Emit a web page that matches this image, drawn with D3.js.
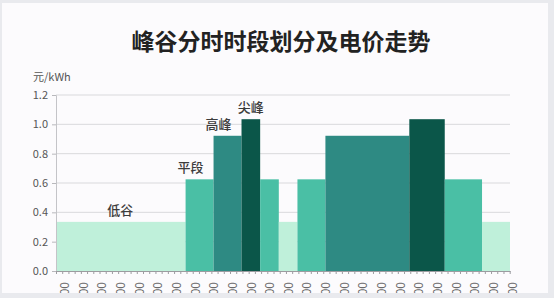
<!DOCTYPE html>
<html>
<head>
<meta charset="utf-8">
<script src="https://cdn.jsdelivr.net/npm/d3@7"></script>
<style>
  body { margin: 0; background: #e9eaee; }
  text { font-family: "Noto Sans CJK SC", "Noto Sans", sans-serif; }
</style>
</head>
<body>
<div id="plot"></div>
<script>
// Define dimensions
const width = 554, height = 298;
const margin = { top: 95, bottom: 27, left: 56, right: 44 };

// Data: time segments (hours), price (元/kWh) and period type
const segStart = [-0.45, 6.5, 8, 9.5, 10.5, 11.5, 12.5, 14, 18.5, 20.4, 22.4];
const segEnd   = [6.5, 8, 9.5, 10.5, 11.5, 12.5, 14, 18.5, 20.4, 22.4, 23.9];
const segType  = ['低谷', '平段', '高峰', '尖峰', '平段', '低谷', '平段', '高峰', '尖峰', '平段', '低谷'];
const typeNames  = ['低谷', '平段', '高峰', '尖峰'];
const typePrices = [0.335, 0.625, 0.922, 1.035];
const hourLabels = d3.range(0, 25).map(h => h + ':00');
const yTicks = [0, 0.2, 0.4, 0.6, 0.8, 1.0, 1.2];

const segments = segStart.map((s, i) => ({
  start: s, end: segEnd[i], type: segType[i],
  price: typePrices[typeNames.indexOf(segType[i])]
}));

// Create SVG container
const svg = d3.select('#plot')
  .append('svg')
  .attr('width', width)
  .attr('height', height);

svg.append('rect')
  .attr('x', 2).attr('y', 3)
  .attr('width', 546).attr('height', 290)
  .attr('fill', '#fcfbfd');

// Scales
const x = d3.scaleLinear()
  .domain([segStart[0], segEnd[segEnd.length - 1]])
  .range([margin.left, width - margin.right]);

const xLabel = d3.scalePoint()
  .domain(hourLabels)
  .range([x(0), x(24)]);

const y = d3.scaleLinear()
  .domain([0, 1.2])
  .range([height - margin.bottom, margin.top]);

const color = d3.scaleOrdinal()
  .domain(typeNames)
  .range(['#bff0da', '#4abfa5', '#2e8a83', '#0b5649']);

// Grid lines
svg.append('g')
  .selectAll('line')
  .data(yTicks.slice(1))
  .join('line')
  .attr('x1', margin.left)
  .attr('x2', width - margin.right)
  .attr('y1', d => y(d))
  .attr('y2', d => y(d))
  .attr('stroke', '#d9d9dc')
  .attr('stroke-width', 1);

// Bars
svg.append('g')
  .selectAll('rect')
  .data(segments)
  .join('rect')
  .attr('x', d => x(d.start))
  .attr('y', d => y(d.price))
  .attr('width', d => x(d.end) - x(d.start))
  .attr('height', d => y(0) - y(d.price))
  .attr('fill', d => color(d.type));

// Y axis
const yAxis = svg.append('g')
  .attr('transform', `translate(${margin.left},0)`)
  .call(d3.axisLeft(y).tickValues(yTicks).tickFormat(d3.format('.1f')).tickSize(4).tickPadding(4));
yAxis.select('.domain').attr('stroke', '#c4c4c8');
yAxis.selectAll('.tick line').attr('stroke', '#b8b8bc');
yAxis.selectAll('text')
  .attr('fill', '#555')
  .style('font-size', '11px');

// X axis: minor ticks every 20 minutes
const minor = d3.range(0, 74).map(i => segStart[0] + i / 3).filter(v => v <= x.domain()[1] + 1e-6);
const xAxis = svg.append('g')
  .attr('transform', `translate(0,${y(0)})`)
  .call(d3.axisBottom(x).tickValues(minor).tickFormat('').tickSize(3).tickSizeOuter(0));
xAxis.select('.domain').attr('stroke', '#9c9ca0');
xAxis.selectAll('.tick line').attr('stroke', '#9c9ca0');

// X labels (rotated); the frame below crops them as in the reference
const xLab = svg.append('g')
  .attr('transform', `translate(0,${y(0) + 11})`)
  .call(d3.axisBottom(xLabel).tickSize(0).tickPadding(0));
xLab.select('.domain').remove();
xLab.selectAll('text')
  .attr('transform', 'rotate(-90)')
  .attr('x', 0)
  .attr('y', 0)
  .attr('dy', '0.35em')
  .style('text-anchor', 'end')
  .attr('fill', '#6a6a6a')
  .style('font-size', '12px');

// Frame strips
svg.append('rect').attr('x', 0).attr('y', 293).attr('width', width).attr('height', 5).attr('fill', '#e9eaee');
svg.append('rect').attr('x', 548).attr('y', 0).attr('width', 6).attr('height', height).attr('fill', '#e9eaee');

// Period labels above first occurrence of each bar
const labelPos = [
  { type: '低谷', seg: 0 },
  { type: '平段', seg: 1 },
  { type: '高峰', seg: 2 },
  { type: '尖峰', seg: 3 }
];
svg.append('g')
  .selectAll('text')
  .data(labelPos)
  .join('text')
  .attr('x', d => {
    const s = segments[d.seg];
    return d.type === '低谷' ? x(3.0) : (d.type === '尖峰' ? x((s.start + s.end) / 2) : x(s.start) + 5);
  })
  .attr('y', d => y(segments[d.seg].price) - 7)
  .attr('text-anchor', 'middle')
  .attr('fill', '#3c3c3c')
  .style('font-size', '13px')
  .style('font-weight', '500')
  .text(d => d.type);

// Title
svg.append('text')
  .attr('x', 281)
  .attr('y', 50)
  .attr('text-anchor', 'middle')
  .attr('fill', '#222')
  .style('font-size', '23px')
  .style('font-weight', 'bold')
  .text('峰谷分时时段划分及电价走势');

// Y-axis unit label
svg.append('text')
  .attr('x', 33)
  .attr('y', 81)
  .attr('fill', '#555')
  .style('font-size', '11px')
  .text('元/kWh');
</script>
</body>
</html>
